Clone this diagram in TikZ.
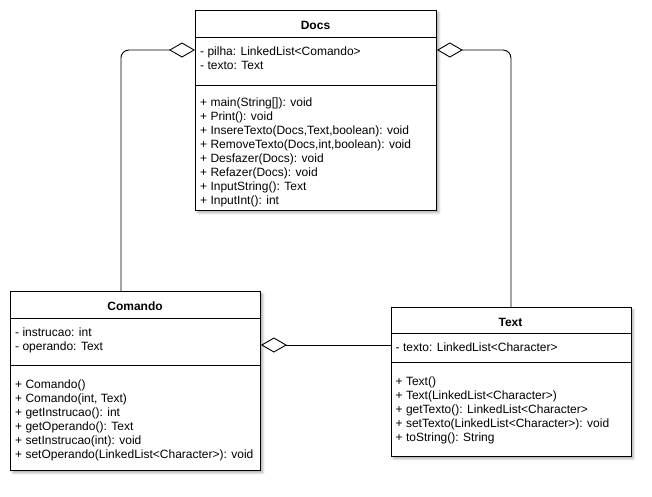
\documentclass[tikz,border=0pt]{standalone}
\usepackage{fontspec}
\setmainfont{Liberation Sans}
\usetikzlibrary{arrows.meta,shadows.blur}

\begin{document}
\begin{tikzpicture}[x=1pt,y=-1pt,
  classbox/.style={draw=black, fill=white, line width=0.9pt, rectangle,
    inner sep=0pt, anchor=north west,
    blur shadow={shadow xshift=2.5pt, shadow yshift=-2.5pt,
      shadow blur steps=6, shadow opacity=30}},
  classtitle/.style={font=\fontsize{12}{14}\selectfont\bfseries, inner sep=0pt, anchor=mid, yshift=-3pt},
  member/.style={font=\fontsize{12}{14}\selectfont, inner sep=0pt, anchor=mid west, yshift=-2.5pt, xshift=2pt},
  sep/.style={draw=black, line width=0.9pt},
  assoc/.style={draw=black, line width=0.9pt, rounded corners=8pt},
  agg/.style={{Diamond[open, length=26pt, width=15pt, line width=0.9pt]}-}
]
\useasboundingbox (0,0) rectangle (652,496);

% ---- class Docs ----
\node[classbox, minimum width=241pt, minimum height=200pt] (docs) at (195,10) {};
\node[classtitle] (docsT) at (315.5,24) {Docs};
\draw[sep] ([yshift=-27pt]docs.north west) -- ([yshift=-27pt]docs.north east);
\draw[sep] ([yshift=-75pt]docs.north west) -- ([yshift=-75pt]docs.north east);
\node[member] (docsA1) at (198,50) {- pilha: LinkedList<Comando>};
\node[member] (docsA2) at (198,64) {- texto: Text};
\node[member] (docsM1) at (198,101) {+ main(String[]): void};
\node[member] (docsM2) at (198,115) {+ Print(): void};
\node[member] (docsM3) at (198,129) {+ InsereTexto(Docs,Text,boolean): void};
\node[member] (docsM4) at (198,143) {+ RemoveTexto(Docs,int,boolean): void};
\node[member] (docsM5) at (198,157) {+ Desfazer(Docs): void};
\node[member] (docsM6) at (198,171) {+ Refazer(Docs): void};
\node[member] (docsM7) at (198,185) {+ InputString(): Text};
\node[member] (docsM8) at (198,199) {+ InputInt(): int};

% ---- class Comando ----
\node[classbox, minimum width=250pt, minimum height=179pt] (comando) at (10,291) {};
\node[classtitle] (comandoT) at (135,305) {Comando};
\draw[sep] ([yshift=-27pt]comando.north west) -- ([yshift=-27pt]comando.north east);
\draw[sep] ([yshift=-74pt]comando.north west) -- ([yshift=-74pt]comando.north east);
\node[member] (comandoA1) at (13,331) {- instrucao: int};
\node[member] (comandoA2) at (13,345) {- operando: Text};
\node[member] (comandoM1) at (13,383) {+ Comando()};
\node[member] (comandoM2) at (13,397) {+ Comando(int, Text)};
\node[member] (comandoM3) at (13,411) {+ getInstrucao(): int};
\node[member] (comandoM4) at (13,425) {+ getOperando(): Text};
\node[member] (comandoM5) at (13,439) {+ setInstrucao(int): void};
\node[member] (comandoM6) at (13,453) {+ setOperando(LinkedList<Character>): void};

% ---- class Text ----
\node[classbox, minimum width=240pt, minimum height=149pt] (text) at (390.5,307) {};
\node[classtitle] (textT) at (510.5,321) {Text};
\draw[sep] ([yshift=-26pt]text.north west) -- ([yshift=-26pt]text.north east);
\draw[sep] ([yshift=-55pt]text.north west) -- ([yshift=-55pt]text.north east);
\node[member] (textA1) at (393.5,346) {- texto: LinkedList<Character>};
\node[member] (textM1) at (393.5,380) {+ Text()};
\node[member] (textM2) at (393.5,394) {+ Text(LinkedList<Character>)};
\node[member] (textM3) at (393.5,408) {+ getTexto(): LinkedList<Character>};
\node[member] (textM4) at (393.5,422) {+ setTexto(LinkedList<Character>): void};
\node[member] (textM5) at (393.5,436) {+ toString(): String};

% ---- aggregations ----
\draw[assoc, agg] ([yshift=-40pt]docs.north west) -| ([xshift=-14.5pt]comando.north);
\draw[assoc, agg] ([yshift=-40pt]docs.north east) -| (text.north);
\coordinate (cmd) at ([yshift=-54pt]comando.north east);
\draw[assoc, agg] (cmd) -- (cmd -| text.west);
\end{tikzpicture}
\end{document}
